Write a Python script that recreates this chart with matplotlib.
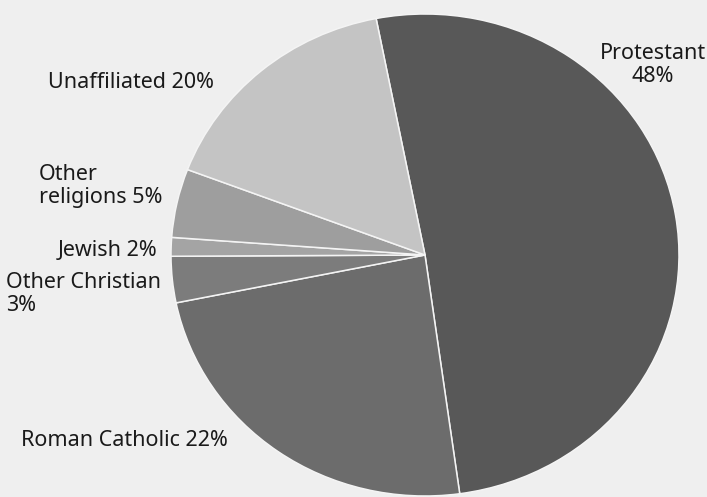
import matplotlib
matplotlib.use("Agg")
import matplotlib.pyplot as plt

categories = ["Protestant", "Roman Catholic", "Other Christian", "Jewish",
              "Other religions", "Unaffiliated"]
shares = [50.9, 24.0, 3.1, 1.25, 4.6, 16.15]
label_texts = ["Protestant\n48%", "Roman Catholic 22%", "Other Christian\n3%",
               "Jewish 2%", "Other\nreligions 5%", "Unaffiliated 20%"]
colors = ["#585858", "#6c6c6c", "#7c7c7c", "#a4a4a4", "#9e9e9e", "#c4c4c4"]

W, H = 707, 497
bg = "#efefef"
fig = plt.figure(figsize=(W / 100, H / 100), dpi=100, facecolor=bg)

# background / text axes in pixel coordinates
tax = fig.add_axes([0, 0, 1, 1])
tax.set_xlim(0, W)
tax.set_ylim(H, 0)
tax.axis("off")
tax.set_facecolor(bg)

# pie axes (slightly elliptical as in the reference)
cx, cy, rx, ry = 425, 255, 254, 241
pax = fig.add_axes([(cx - rx) / W, (H - cy - ry) / H, 2 * rx / W, 2 * ry / H])
pax.pie(shares, colors=colors, startangle=101.1, counterclock=False,
        radius=1.0, wedgeprops=dict(edgecolor="#f4f4f4", linewidth=1.1))
pax.set_aspect("auto")
pax.set_xlim(-1, 1)
pax.set_ylim(-1, 1)
pax.axis("off")

font = dict(family=["Noto Sans", "DejaVu Sans"], fontsize=15.5, color="#1a1a1a")
pos = {
    "Protestant": (653, 65, "center"),
    "Roman Catholic": (21, 440, "left"),
    "Other Christian": (6, 294, "left"),
    "Jewish": (157, 251, "right"),
    "Other religions": (39, 186, "left"),
    "Unaffiliated": (214, 83, "right"),
}
for cat, txt in zip(categories, label_texts):
    x, y, ha = pos[cat]
    tax.text(x, y, txt, ha=ha, va="center", multialignment=ha,
             linespacing=1.08, **font)

fig.savefig("out.png", dpi=100, facecolor=bg)
